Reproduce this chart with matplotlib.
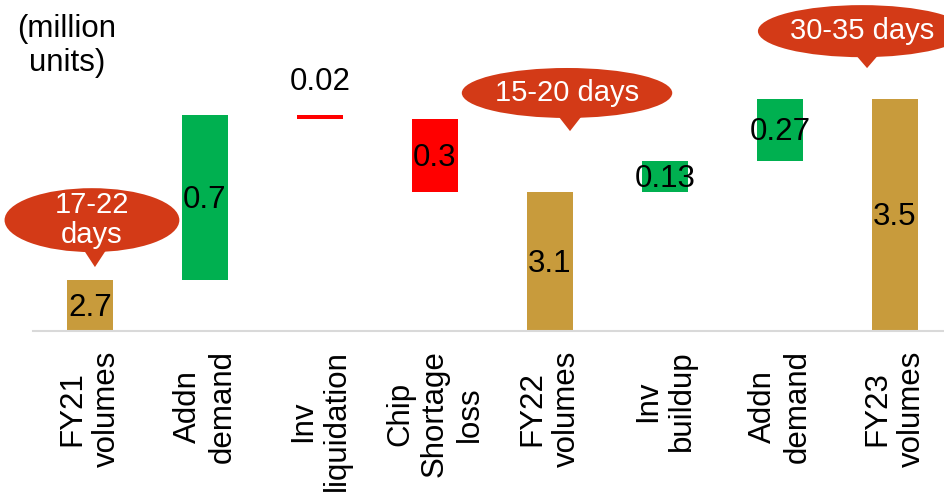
import matplotlib
matplotlib.use("Agg")
import matplotlib.pyplot as plt
from matplotlib.patches import Ellipse, Polygon

plt.rcParams["font.family"] = ["Liberation Sans", "DejaVu Sans"]

# waterfall data (million units)
categories = ["FY21\nvolumes", "Addn\ndemand", "Inv\nliquidation", "Chip\nShortage\nloss",
              "FY22\nvolumes", "Inv\nbuildup", "Addn\ndemand", "FY23\nvolumes"]
values = [2.72, 0.71, -0.02, -0.31, 3.10, 0.13, 0.27, 3.50]
isTotal = [True, False, False, False, True, False, False, True]
valueLabels = ["2.7", "0.7", "0.02", "0.3", "3.1", "0.13", "0.27", "3.5"]

# inventory days callouts
calloutTexts = ["17-22\ndays", "15-20 days", "30-35 days"]

goldColor = "#C89B3C"
upColor = "#00B050"
downColor = "#FF0000"
bubbleColor = "#D33A17"

yMin = 2.5
yMax = 3.924

fig = plt.figure(figsize=(9.44, 4.95), dpi=100)
ax = fig.add_axes([32.5 / 944, 164 / 495, 920 / 944, 331 / 495])

running = 0
for idx, val in enumerate(values):
    if isTotal[idx]:
        bottom = 0
        height = val
        color = goldColor
        running = val
        labelY = (max(bottom, yMin) + val) / 2
    else:
        if val >= 0:
            bottom = running
            color = upColor
        else:
            bottom = running + val
            color = downColor
        height = abs(val)
        running = running + val
        labelY = bottom + height / 2
    ax.bar(idx, height, bottom=bottom, width=0.4, color=color)
    if height < 0.05:
        ax.annotate(valueLabels[idx], (idx, bottom + height), xytext=(0, 13),
                    textcoords="offset points", ha="center", va="bottom", fontsize=22.5)
    else:
        ax.text(idx, labelY - 0.01, valueLabels[idx], ha="center", va="center", fontsize=22.5)

# callout bubbles: centre x, centre y, width, height, tip x, tip y
bubbleLayout = [
    (0.017, 2.977, 1.52, 0.275, 0.043, 2.775),
    (4.148, 3.524, 1.83, 0.215, 4.174, 3.360),
    (6.713, 3.790, 1.81, 0.224, 6.757, 3.631),
]
for text, (cx, cy, w, h, tx, ty) in zip(calloutTexts, bubbleLayout):
    ax.add_patch(Ellipse((cx, cy), w, h, color=bubbleColor, lw=0, clip_on=False))
    baseY = cy - h * 0.35
    ax.add_patch(Polygon([(tx - 0.14, baseY), (tx + 0.14, baseY), (tx, ty)],
                         closed=True, color=bubbleColor, lw=0, clip_on=False))
    ax.text(cx, cy, text, color="white", ha="center", va="center",
            fontsize=21, linespacing=1.1)

ax.set_xlim(-0.5, 7.5)
ax.set_ylim(yMin, yMax)
ax.set_xticks(range(len(categories)))
ax.set_xticklabels(categories, rotation=90, fontsize=22.5, linespacing=1.2,
                   ha="center", va="top", multialignment="center")
ax.tick_params(axis="x", length=0, pad=14)
ax.set_yticks([])
for side in ["top", "right", "left"]:
    ax.spines[side].set_visible(False)
ax.spines["bottom"].set_color("#D9D9D9")
ax.spines["bottom"].set_linewidth(1.5)

fig.text(67 / 944, 1 - 46 / 495, "(million\nunits)", ha="center", va="center",
         fontsize=22.5, linespacing=1.15)

fig.savefig("out.png", dpi=100)
